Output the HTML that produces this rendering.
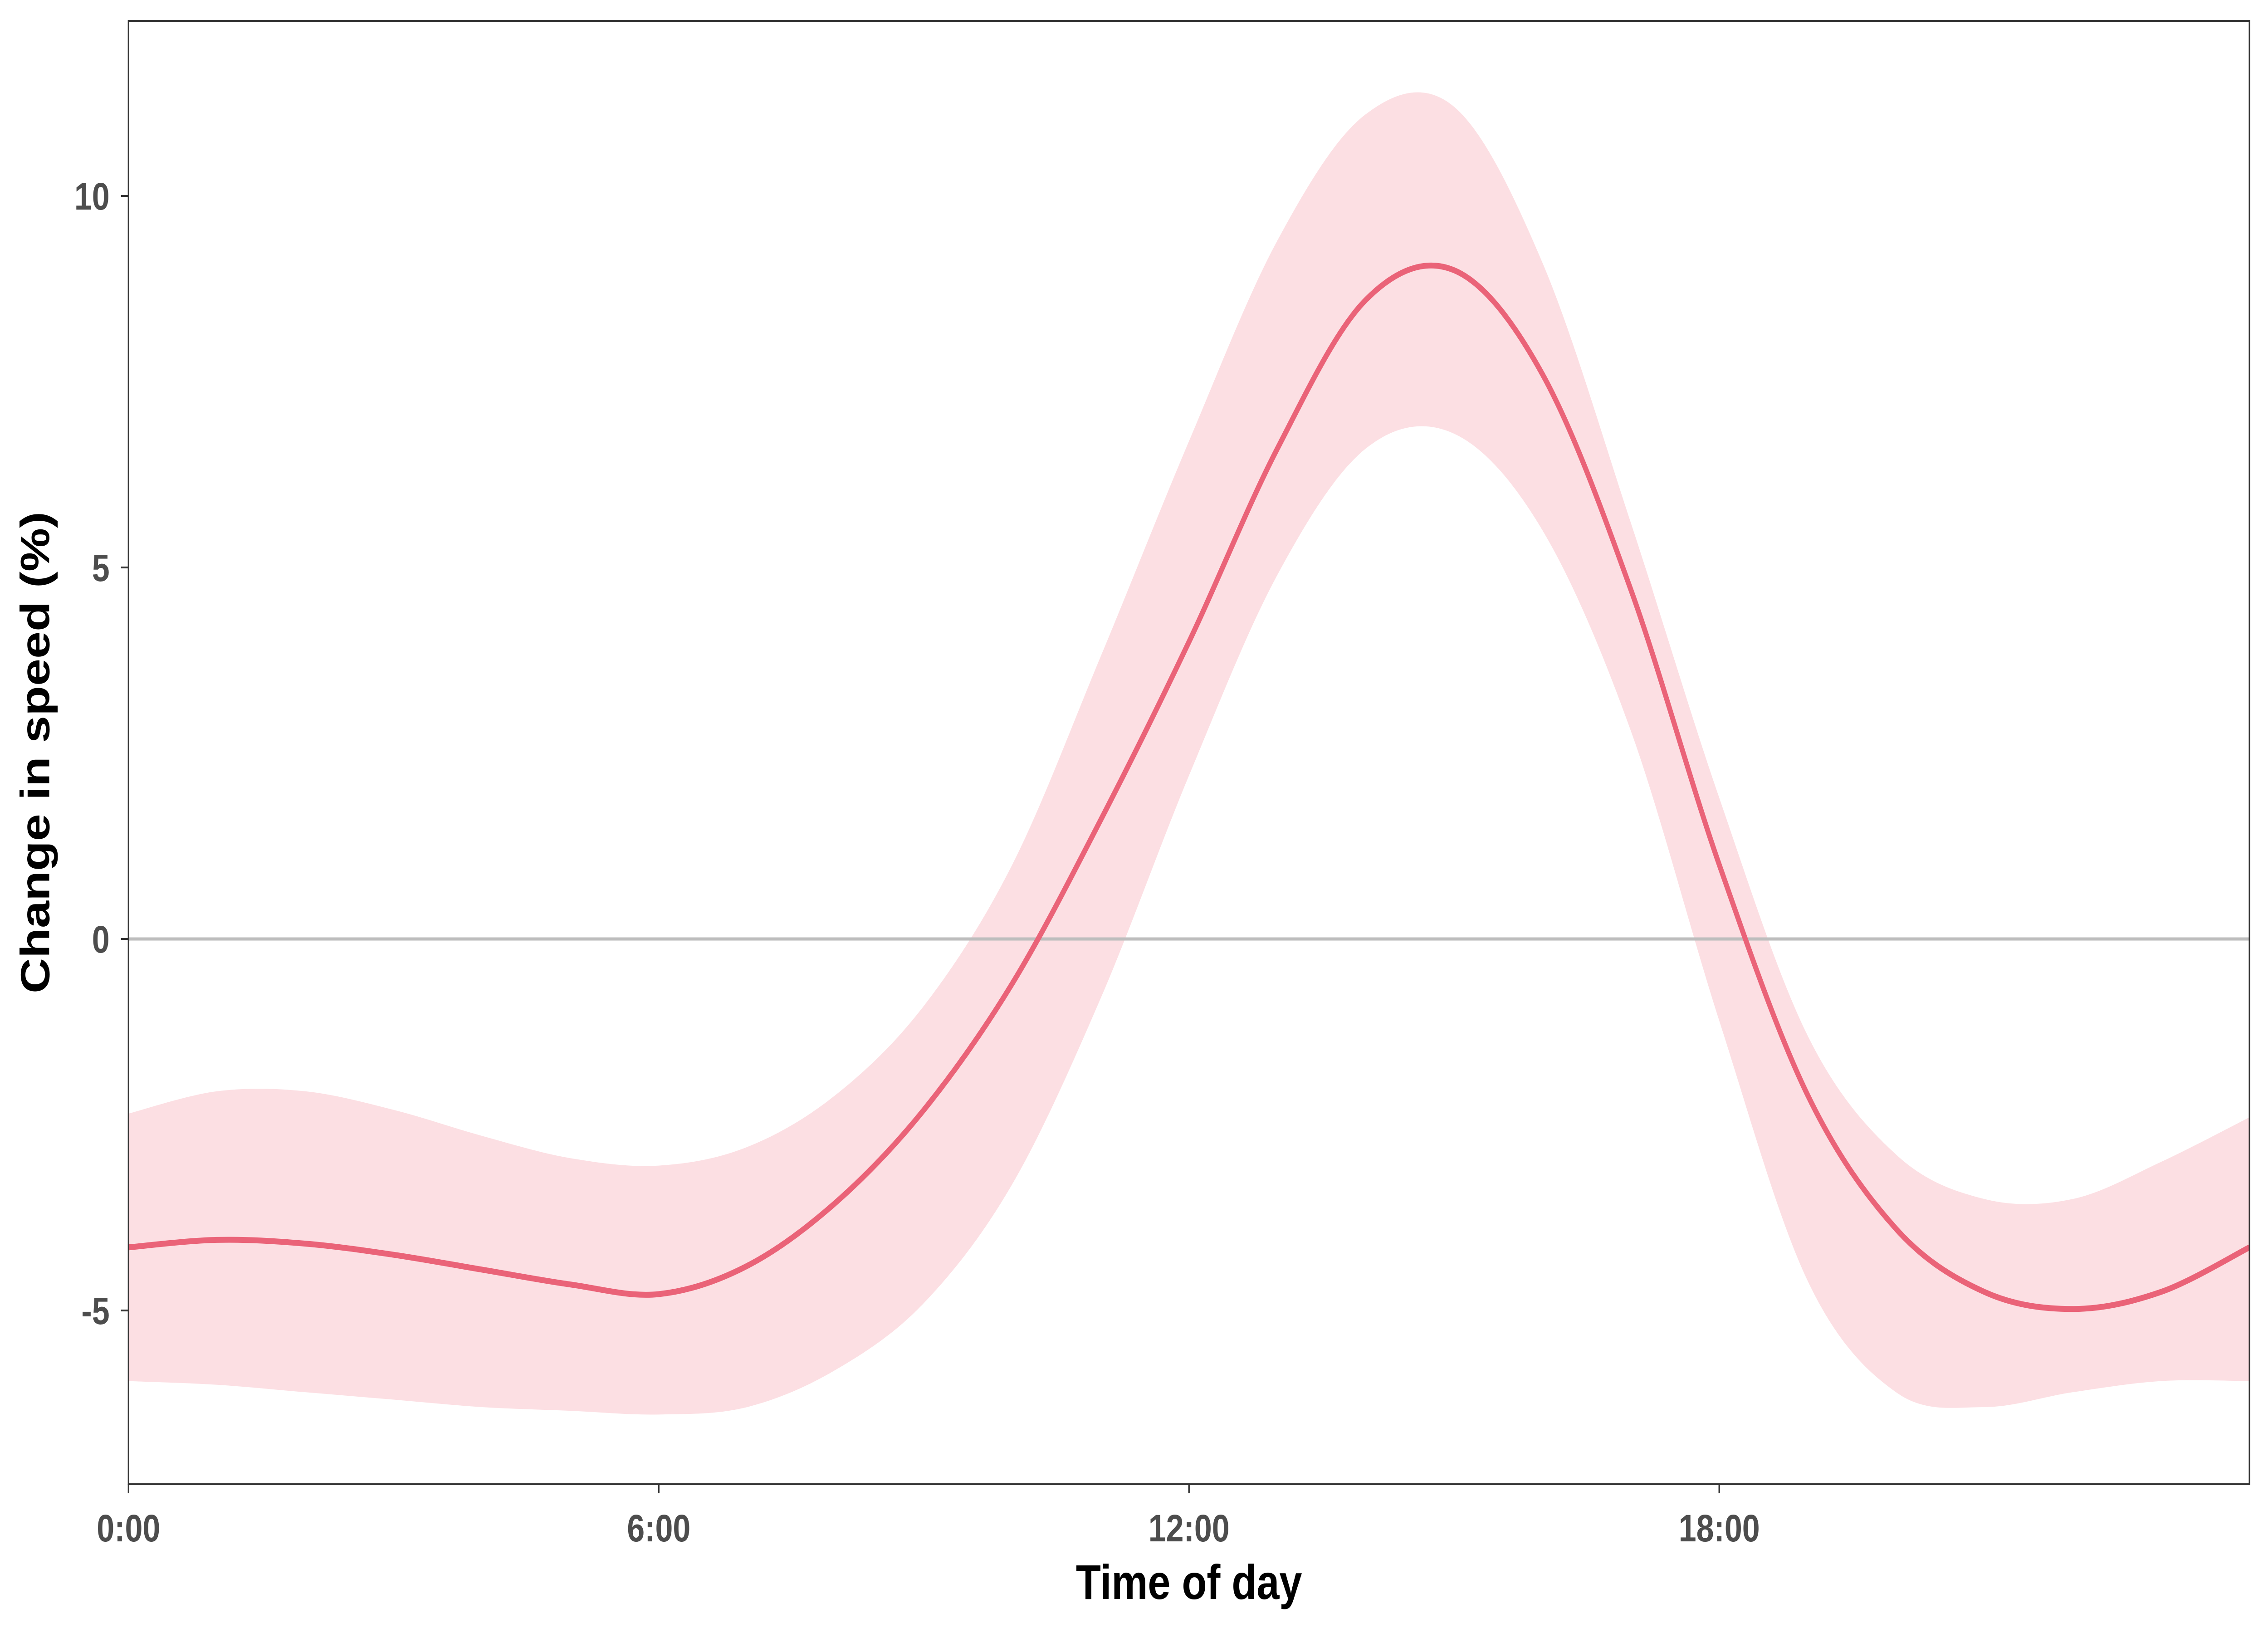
<!DOCTYPE html>
<html><head><meta charset="utf-8"><style>
html,body{margin:0;padding:0;background:#fff;overflow:hidden;width:100%;height:100%;}
svg{display:block;width:100vw;height:100vh;font-family:"Liberation Sans",Arial,sans-serif;}
</style></head><body>
<svg id="chart" viewBox="0 0 6000 3600" preserveAspectRatio="none">
<rect x="0" y="0" width="6000" height="3600" fill="#fff"/>
<g id="plot"></g>
</svg>
<script>
const hours = [0,1,2,3,4,5,6,7,8,9,10,11,12,13,14,15,16,17,18,19,20,21,22,23,24];
const fitValues = [-4.15,-4.05,-4.1,-4.25,-4.45,-4.65,-4.78,-4.4,-3.55,-2.3,-0.6,1.6,4.0,6.6,8.6,9.0,7.6,4.7,1.0,-2.1,-3.9,-4.75,-4.98,-4.75,-4.15];
const upperValues = [-2.35,-2.05,-2.05,-2.3,-2.65,-2.95,-3.05,-2.8,-2.1,-0.9,1.0,3.8,6.7,9.4,11.1,11.2,9.1,5.6,1.9,-1.3,-2.9,-3.5,-3.5,-3.0,-2.4];
const lowerValues = [-5.95,-6.0,-6.1,-6.2,-6.3,-6.35,-6.4,-6.3,-5.8,-4.9,-3.3,-0.8,2.2,4.9,6.6,6.8,5.5,2.8,-1.1,-4.6,-6.1,-6.3,-6.1,-5.95,-5.95];
const xTicks = [0,6,12,18];
const xTickLabels = ["0:00","6:00","12:00","18:00"];
const yTicks = [-5,0,5,10];
const yTickLabels = ["-5","0","5","10"];

const L=340,R=5951,T=46,B=3272;
const xs = h => L + (R-L)*h/24;
const ys = v => 2070 - v*163.8;
const NS="http://www.w3.org/2000/svg";
const g=document.getElementById('plot');
function mk(tag,attrs){const e=document.createElementNS(NS,tag);for(const k in attrs)e.setAttribute(k,attrs[k]);return e;}
function smooth(pts){
  let d="";
  for(let i=0;i<pts.length-1;i++){
    const p0=pts[Math.max(0,i-1)],p1=pts[i],p2=pts[i+1],p3=pts[Math.min(pts.length-1,i+2)];
    const c1=[p1[0]+(p2[0]-p0[0])/6,p1[1]+(p2[1]-p0[1])/6];
    const c2=[p2[0]-(p3[0]-p1[0])/6,p2[1]-(p3[1]-p1[1])/6];
    d+=(i===0?"M"+p1[0]+","+p1[1]:"")+" C"+c1[0]+","+c1[1]+" "+c2[0]+","+c2[1]+" "+p2[0]+","+p2[1];
  }
  return d;
}
const up=hours.map((h,i)=>[xs(h),ys(upperValues[i])]);
const lo=hours.map((h,i)=>[xs(h),ys(lowerValues[i])]).reverse();
const band=mk('path',{d:smooth(up)+" L"+lo[0][0]+","+lo[0][1]+smooth(lo).replace(/^M[^ ]+/,"")+" Z",fill:"#fcdfe3"});


g.appendChild(band);
const zero=mk('line',{x1:L,x2:R,y1:ys(0),y2:ys(0),stroke:"#bdbdbd","stroke-width":7});


g.appendChild(zero);
const line=mk('path',{d:smooth(hours.map((h,i)=>[xs(h),ys(fitValues[i])])),fill:"none",stroke:"#ea6378","stroke-width":13});


g.appendChild(line);
const frame=mk('rect',{x:L,y:T,width:R-L,height:B-T,fill:"none",stroke:"#333","stroke-width":4});


g.appendChild(frame);
xTicks.forEach((t,i)=>{
  const tk=mk('line',{x1:xs(t),x2:xs(t),y1:B,y2:B+20,stroke:"#333","stroke-width":4});
  
  
  g.appendChild(tk);
  const tx=mk('text',{x:xs(t),y:3398,"text-anchor":"middle","font-size":84,"font-weight":"bold",fill:"#4d4d4d"});
  tx.textContent=xTickLabels[i];
  
  
  g.appendChild(tx);
});
yTicks.forEach((t,i)=>{
  const tk=mk('line',{x1:L-20,x2:L,y1:ys(t),y2:ys(t),stroke:"#333","stroke-width":4});
  
  
  g.appendChild(tk);
  const tx=mk('text',{x:290,y:ys(t)+30,"text-anchor":"end","font-size":84,"font-weight":"bold",fill:"#4d4d4d"});
  tx.textContent=yTickLabels[i];
  
  
  g.appendChild(tx);
});
const xt=mk('text',{x:(L+R)/2,y:3525,"text-anchor":"middle","font-size":108,"font-weight":"bold",fill:"#000"});
xt.textContent="Time of day";


g.appendChild(xt);
const yt=mk('text',{x:0,y:0,"text-anchor":"middle","font-size":108,"font-weight":"bold",fill:"#000",transform:"translate(130,"+((T+B)/2)+") rotate(-90)"});
yt.textContent="Change in speed (%)";


g.appendChild(yt);
</script>
</body></html>
